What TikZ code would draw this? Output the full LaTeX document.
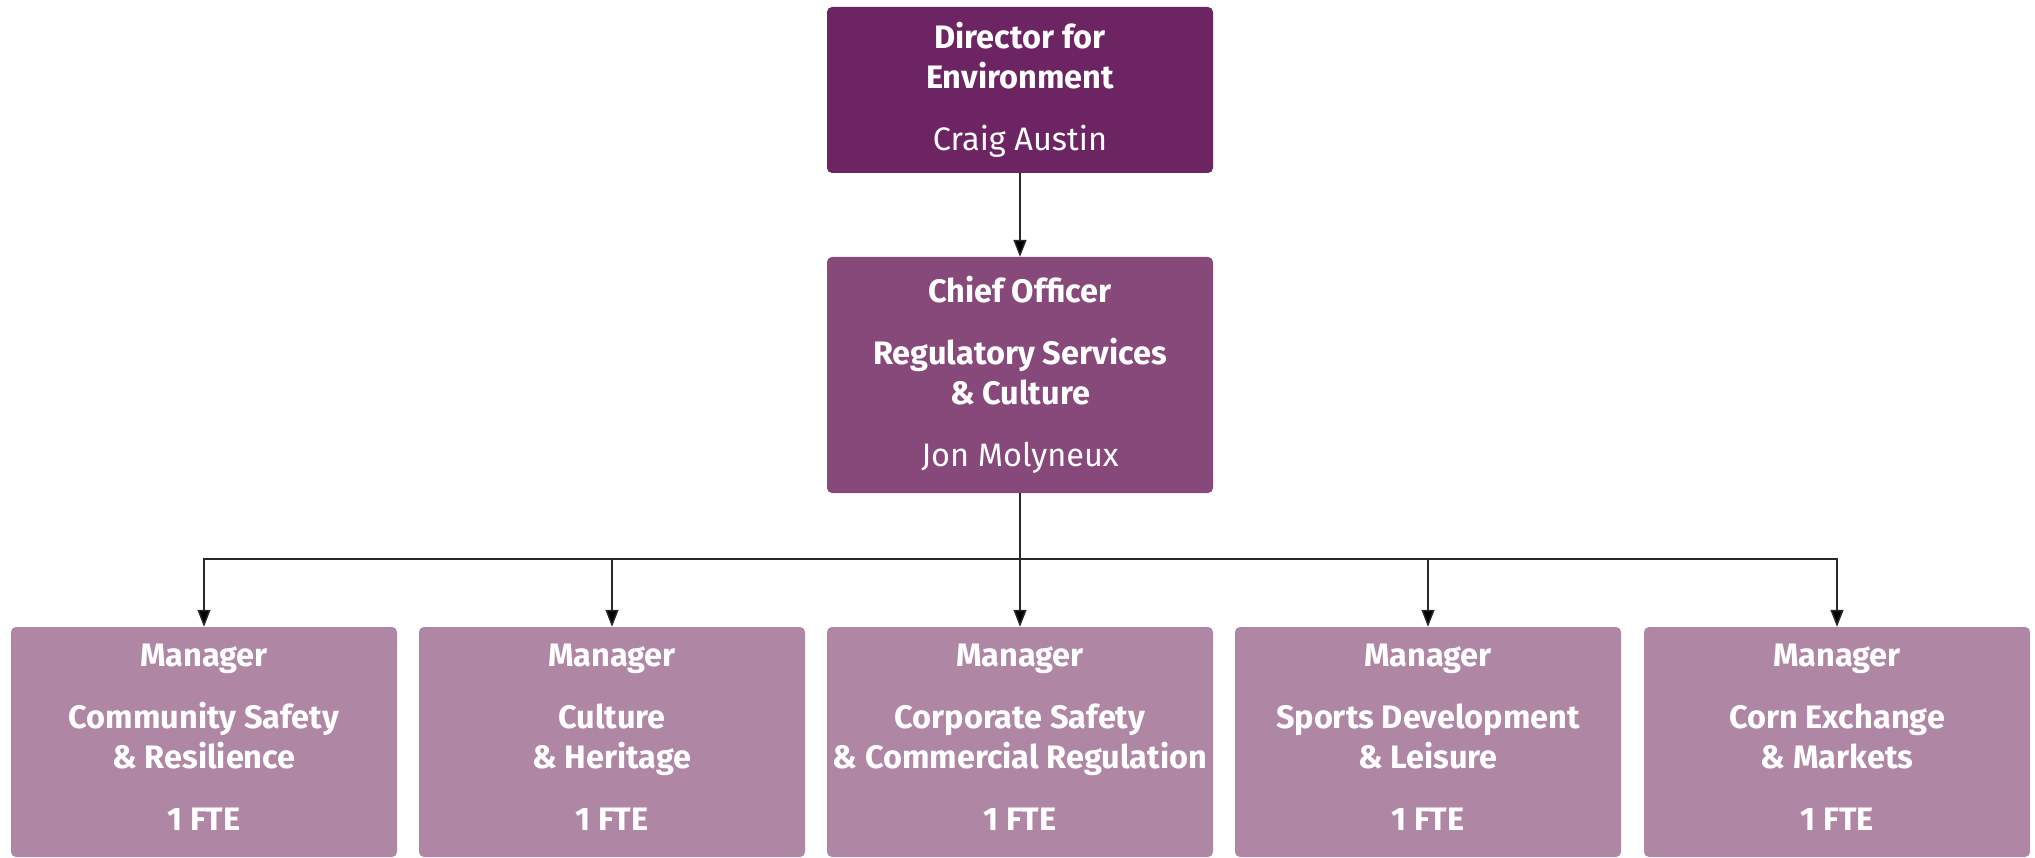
\documentclass[tikz,border=0pt]{standalone}
\usepackage{fontspec}
\setmainfont{Fira Sans}
\usetikzlibrary{arrows.meta}
\definecolor{topfill}{RGB}{108,36,98}
\definecolor{midfill}{RGB}{134,73,122}
\definecolor{lowfill}{RGB}{175,135,165}
\definecolor{linkcol}{RGB}{40,40,40}
% extra depth under the last line of the lower boxes
\newcommand{\lowstrut}{\rule[-9pt]{0pt}{9pt}}
\tikzset{
  orgbox/.style={rectangle, rounded corners=5pt, text=white, align=center,
    minimum width=386pt, inner sep=0pt,
    font=\fontsize{32.5}{40}\selectfont},
  topbox/.style={orgbox, fill=topfill, minimum height=166pt},
  midbox/.style={orgbox, fill=midfill, minimum height=236pt},
  lowbox/.style={orgbox, fill=lowfill, minimum height=230pt},
  link/.style={draw=linkcol, line width=1.5pt,
    -{Triangle[width=13pt,length=17pt,fill=black]}},
}
\begin{document}
\begin{tikzpicture}[x=1pt,y=-1pt]
\useasboundingbox (0,0) rectangle (2035,858);

\node[topbox] (dir) at (1020,90) {\textbf{Director for}\\\textbf{Environment}\\[22pt]Craig Austin};
\node[midbox] (chief) at (1020,375) {\textbf{Chief Officer}\\[22pt]\textbf{Regulatory Services}\\\textbf{\& Culture}\\[22pt]Jon Molyneux};

\node[lowbox] (m1) at (204,742) {\textbf{Manager}\\[22pt]\textbf{Community Safety}\\\textbf{\& Resilience}\\[22pt]\textbf{1 FTE}\lowstrut};
\node[lowbox] (m2) at (612,742) {\textbf{Manager}\\[22pt]\textbf{Culture}\\\textbf{\& Heritage}\\[22pt]\textbf{1 FTE}\lowstrut};
\node[lowbox] (m3) at (1020,742) {\textbf{Manager}\\[22pt]\textbf{Corporate Safety}\\\textbf{\& Commercial Regulation}\\[22pt]\textbf{1 FTE}\lowstrut};
\node[lowbox] (m4) at (1428,742) {\textbf{Manager}\\[22pt]\textbf{Sports Development}\\\textbf{\& Leisure}\\[22pt]\textbf{1 FTE}\lowstrut};
\node[lowbox] (m5) at (1837,742) {\textbf{Manager}\\[22pt]\textbf{Corn Exchange}\\\textbf{\& Markets}\\[22pt]\textbf{1 FTE}\lowstrut};

% level of the shared horizontal bus
\coordinate (bus) at (1020,559);

\draw[link] (dir.south) -- (chief.north);
\foreach \m in {m1,m2,m3,m4,m5}{
  \draw[link] (chief.south) -- (chief.south |- bus) -| (\m.north);
}
\end{tikzpicture}
\end{document}
